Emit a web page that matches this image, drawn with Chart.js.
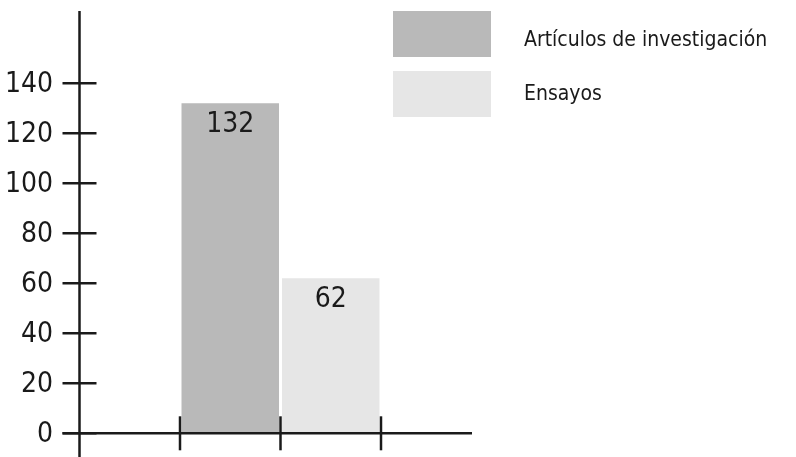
<!DOCTYPE html>
<html>
<head>
<meta charset="utf-8">
<script src="https://cdn.jsdelivr.net/npm/chart.js@4"></script>
<style>
html,body{margin:0;padding:0;background:#fff;}
#wrap{width:796px;height:457px;position:relative;}
</style>
</head>
<body>
<div id="wrap"><canvas id="c" width="796" height="457"></canvas></div>
<script>
const categories = ['Artículos de investigación', 'Ensayos'];
const values = [132, 62];
const colors = ['#b9b9b9', '#e6e6e6'];
const yTicks = [0, 20, 40, 60, 80, 100, 120, 140];
const xTickSlots = [0.5, 1.5, 2.5];

const FONT = '"DejaVu Sans Condensed", "DejaVu Sans", sans-serif';
const INK = '#1a1a1a';

const slots = ['', ...categories, ''];
const datasets = categories.map((cat, i) => ({
  label: cat,
  data: slots.map((s, j) => (j === i + 1 ? values[i] : null)),
  backgroundColor: colors[i],
  borderWidth: 0,
  grouped: false,
  barPercentage: 0.97,
  categoryPercentage: 1.0
}));

const axesPlugin = {
  id: 'axesPlugin',
  afterDatasetsDraw(chart) {
    const ctx = chart.ctx;
    const xs = chart.scales.x, ys = chart.scales.y;
    const y0 = ys.getPixelForValue(0);
    const axX = chart.chartArea.left;
    ctx.save();
    ctx.strokeStyle = INK;
    ctx.lineWidth = 2.5;
    ctx.beginPath();
    ctx.moveTo(axX, chart.chartArea.top);
    ctx.lineTo(axX, 457);
    ctx.stroke();
    ctx.beginPath();
    ctx.moveTo(axX - 17, y0);
    ctx.lineTo(472, y0);
    ctx.stroke();
    ctx.fillStyle = INK;
    ctx.font = '28px ' + FONT;
    ctx.textAlign = 'right';
    ctx.textBaseline = 'middle';
    yTicks.forEach(v => {
      const py = ys.getPixelForValue(v);
      ctx.beginPath();
      ctx.moveTo(axX - 17, py);
      ctx.lineTo(axX + 17, py);
      ctx.stroke();
      ctx.fillText(String(v), 53, py + 1);
    });
    xTickSlots.forEach(s => {
      const px = xs.getPixelForValue(s);
      ctx.beginPath();
      ctx.moveTo(px, y0 - 17);
      ctx.lineTo(px, y0 + 17);
      ctx.stroke();
    });
    ctx.textAlign = 'center';
    chart.data.datasets.forEach((ds, i) => {
      const meta = chart.getDatasetMeta(i);
      meta.data.forEach((bar, j) => {
        if (ds.data[j] == null) return;
        ctx.fillText(String(ds.data[j]), bar.x, bar.y + 21);
      });
    });
    ctx.font = '21px ' + FONT;
    ctx.textAlign = 'left';
    ctx.textBaseline = 'alphabetic';
    chart.data.datasets.forEach((ds, i) => {
      const top = 11 + i * 60;
      ctx.fillStyle = ds.backgroundColor;
      ctx.fillRect(393, top, 98, 46);
      ctx.fillStyle = INK;
      ctx.fillText(ds.label, 524, 45.7 + i * 54.3);
    });
    ctx.restore();
  }
};

new Chart(document.getElementById('c'), {
  type: 'bar',
  data: { labels: slots, datasets },
  options: {
    responsive: false,
    animation: false,
    events: [],
    layout: { padding: { left: 79.5, right: 796 - 481.5, top: 11, bottom: 457 - 433.3 } },
    plugins: { legend: { display: false }, tooltip: { enabled: false } },
    scales: {
      x: { display: false, offset: true },
      y: { display: false, min: 0, max: (433.3 - 11) / 2.5 }
    }
  },
  plugins: [axesPlugin]
});
</script>
</body>
</html>
